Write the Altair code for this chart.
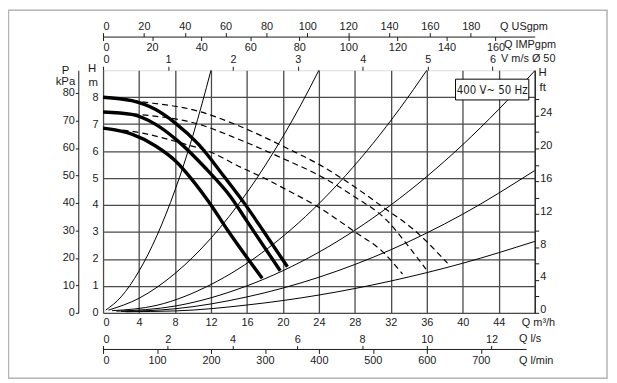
import altair as alt
import pandas as pd

# ---------------- data ----------------
# thin system curves (Q m3/h, H m)
sys_curves = {
    "C1": ([0.3, 2, 4, 6, 8, 10, 11, 12], [0.1, 0.59, 1.55, 2.87, 4.55, 6.59, 7.75, 9.0]),
    "C2": ([0.6, 4, 8, 12, 16, 20, 22, 24], [0.1, 0.54, 1.46, 2.77, 4.46, 6.54, 7.72, 9.0]),
    "C3": ([1.0, 6, 12, 18, 24, 30, 33, 36], [0.08, 0.28, 1.05, 2.31, 4.05, 6.28, 7.58, 9.0]),
    "C4": ([1.5, 8, 16, 24, 32, 40, 44, 48], [0.06, 0.25, 1.0, 2.25, 4.0, 6.24, 7.55, 8.98]),
    "C5": ([2.0, 8, 16, 24, 32, 40, 48], [0.05, 0.15, 0.59, 1.32, 2.34, 3.66, 5.28]),
    "C6": ([2.5, 8, 16, 24, 32, 40, 48], [0.04, 0.07, 0.29, 0.66, 1.18, 1.84, 2.65]),
}
# thick pump curves
pump_curves = {
    "P1": ([0, 3.2, 5.8, 8.0, 10.6, 13.5, 15.7, 17.9, 20.5], [8.0, 7.87, 7.55, 7.05, 6.26, 5.04, 4.07, 3.0, 1.71]),
    "P2": ([0, 3.2, 5.8, 8.3, 11.3, 14.2, 16.0, 19.7], [7.45, 7.36, 7.0, 6.38, 5.4, 4.3, 3.4, 1.56]),
    "P3": ([0, 3.2, 5.8, 8.0, 9.8, 12.0, 13.8, 17.7], [6.85, 6.63, 6.2, 5.65, 4.98, 4.0, 3.09, 1.28]),
}
# dashed curves
dash_curves = {
    "D1": ([0, 4, 10.6, 15, 20.5, 24.2, 28.2, 31.3, 34.5, 38.3], [8.0, 7.84, 7.48, 6.95, 6.1, 5.47, 4.62, 3.88, 3.1, 1.84]),
    "D2": ([0, 4, 10.6, 15, 19.7, 24, 28, 31.5, 34, 35.9], [7.45, 7.36, 7.0, 6.45, 5.77, 5.1, 4.3, 3.45, 2.45, 1.62]),
    "D3": ([0, 4, 9.1, 12, 15, 17.9, 20.5, 23.8, 27.8, 31.3, 33.3], [6.85, 6.69, 6.26, 5.96, 5.45, 5.0, 4.55, 3.95, 3.05, 2.2, 1.44]),
}

q_ticks = [0, 4, 8, 12, 16, 20, 24, 28, 32, 36, 40, 44, 48]
h_ticks = [0, 1, 2, 3, 4, 5, 6, 7, 8]
kpa_ticks = [0, 10, 20, 30, 40, 50, 60, 70, 80]
ft_ticks = [0, 2, 4, 6, 8, 10, 12, 14, 16, 18, 20, 22, 24, 26]
usgpm_ticks = [0, 20, 40, 60, 80, 100, 120, 140, 160, 180]
impgpm_ticks = [0, 20, 40, 60, 80, 100, 120, 140, 160]
v_ticks = [0, 1, 2, 3, 4, 5, 6]
ls_ticks = [0, 2, 4, 6, 8, 10, 12]
lmin_ticks = [0, 100, 200, 300, 400, 500, 600, 700]

Q_MAX, H_MAX = 48, 9
USGPM_PER_M3H = 4.403
IMPGPM_PER_M3H = 3.666
M3H_PER_MS = 7.22
KPA_PER_M = 9.81
FT_PER_M = 3.2808
LMIN_LINE_END = 47.1  # m3/h

# ---------------- helpers ----------------
def long_df(curves):
    rows = []
    for name, (qs, hs) in curves.items():
        for i, (q, h) in enumerate(zip(qs, hs)):
            rows.append({"curve": name, "i": i, "Q": q, "H": h})
    return pd.DataFrame(rows)

FONT = "Liberation Sans"
INK = "#1a1a1a"
W, H = 436, 245

xs = alt.Scale(domain=[0, Q_MAX], nice=False, zero=True)
ys = alt.Scale(domain=[0, H_MAX], nice=False, zero=True)
x_axis = alt.Axis(values=q_ticks, labelExpr="datum.value == 48 ? '' : datum.label",
                  grid=True, gridColor="#4a4a4a", gridWidth=1.3, tickSize=0, labelPadding=4,
                  domain=False, title=None, labelFont=FONT, labelFontSize=11, labelColor=INK)
y_axis = alt.Axis(values=h_ticks, grid=True, gridColor="#4a4a4a", gridWidth=1.3, tickSize=0,
                  labelPadding=5, domain=False, title=None, labelFont=FONT, labelFontSize=11,
                  labelColor=INK)
X = alt.X("Q:Q", scale=xs, axis=x_axis)
Y = alt.Y("H:Q", scale=ys, axis=y_axis)

thin = alt.Chart(long_df(sys_curves)).mark_line(color="black", strokeWidth=1, interpolate="monotone").encode(
    x=X, y=Y, detail="curve:N", order="i:Q")
dashed = alt.Chart(long_df(dash_curves)).mark_line(color="black", strokeWidth=1.2, strokeDash=[6, 4],
                                                   interpolate="monotone").encode(
    x=X, y=Y, detail="curve:N", order="i:Q")
thick = alt.Chart(long_df(pump_curves)).mark_line(color="black", strokeWidth=3.4, interpolate="monotone",
                                                  strokeCap="butt").encode(
    x=X, y=Y, detail="curve:N", order="i:Q")

# line of the l/s - l/min scale
lmin_line = alt.Chart(pd.DataFrame({"Q": [0], "Q2": [LMIN_LINE_END]})).mark_rule(
    color=INK, strokeWidth=1).encode(x=X, x2="Q2:Q", y=alt.value(282))

# legend box
box = alt.Chart(pd.DataFrame({"t": ["400 V~ 50 Hz"]})).mark_rect(
    fill="white", stroke="black", strokeWidth=1).encode(
    x=alt.value(356), x2=alt.value(430), y=alt.value(9), y2=alt.value(30))
box_text = alt.Chart(pd.DataFrame({"t": ["400 V~ 50 Hz"]})).mark_text(
    font="'DejaVu Sans Condensed', 'Liberation Sans'", fontSize=11.5, color=INK, align="center",
    baseline="middle").encode(
    x=alt.value(393), y=alt.value(20.5), text="t:N")

# outer frame
frame = alt.Chart(pd.DataFrame({"a": [0]})).mark_rect(
    fill=None, stroke="#b4b4b4", strokeWidth=1.5).encode(
    x=alt.value(-95.5), x2=alt.value(509), y=alt.value(-60.5), y2=alt.value(311))

# titles
titles = pd.DataFrame({
    "t": ["Q USgpm", "Q IMPgpm", "V m/s \u00d8 50", "Q m\u00b3/h", "Q l/s", "Q l/min"],
    "x": [401, 405, 402, 423, 420, 420],
    "y": [-44, -25, -11, 255, 271, 294],
})
title_left = alt.Chart(titles).mark_text(font=FONT, fontSize=11, color=INK, align="left",
                                         baseline="middle").encode(
    x=alt.X("x:Q", scale=None), y=alt.Y("y:Q", scale=None), text="t:N")
ctitles = pd.DataFrame({
    "t": ["H", "m", "P", "kPa", "H", "ft"],
    "x": [-11, -10, -38, -38, 444, 444],
    "y": [-1.5, 13, 0.5, 12, 2.5, 17.5],
})
title_center = alt.Chart(ctitles).mark_text(font=FONT, fontSize=11.5, color=INK, align="center",
                                            baseline="middle").encode(
    x=alt.X("x:Q", scale=None), y=alt.Y("y:Q", scale=None), text="t:N")

main = alt.layer(frame, thin, dashed, thick, lmin_line, box, box_text, title_left, title_center)

# ---------------- secondary axes ----------------
def ax(**kw):
    base = dict(title=None, grid=False, labelFont=FONT, labelFontSize=11, labelColor=INK,
                tickColor=INK, domainColor=INK, tickSize=4, labelPadding=1)
    base.update(kw)
    return alt.Axis(**base)

def x_axis_layer(top, axis):
    return alt.Chart(pd.DataFrame({"v": [0, top]})).mark_rule(opacity=0).encode(
        x=alt.X("v:Q", scale=alt.Scale(domain=[0, top], nice=False, zero=True), axis=axis))

def y_axis_layer(top, axis):
    return alt.Chart(pd.DataFrame({"v": [0, top]})).mark_rule(opacity=0).encode(
        y=alt.Y("v:Q", scale=alt.Scale(domain=[0, top], nice=False, zero=True), axis=axis))

us = x_axis_layer(Q_MAX * USGPM_PER_M3H, ax(orient="top", offset=34, values=usgpm_ticks, domain=True,
                                             labelPadding=1))
imp = x_axis_layer(Q_MAX * IMPGPM_PER_M3H, ax(orient="bottom", offset=-279, values=impgpm_ticks,
                                              domain=False, labelPadding=1))
vel = x_axis_layer(Q_MAX / M3H_PER_MS, ax(orient="top", offset=0, values=v_ticks, domain=False,
                                          labelPadding=2))
ls = x_axis_layer(Q_MAX / 3.6, ax(orient="top", offset=-282, values=ls_ticks, domain=False,
                                  labelPadding=1))
lmin = x_axis_layer(Q_MAX / 0.06, ax(orient="bottom", offset=37, values=lmin_ticks, domain=False,
                                     labelPadding=1))
kpa = y_axis_layer(H_MAX * KPA_PER_M, ax(orient="left", offset=25, values=kpa_ticks, domain=True,
                                         tickSize=3, labelPadding=1))
ft = y_axis_layer(H_MAX * FT_PER_M, ax(orient="right", offset=0, values=ft_ticks, domain=True,
                                       labelExpr="datum.value % 4 == 0 ? datum.label : ''",
                                       labelPadding=1, labelOffset=-3))

chart = alt.layer(main, us, imp, vel, ls, lmin, kpa, ft).resolve_scale(
    x="independent", y="independent").properties(
    width=W, height=H,
    padding={"left": 96, "top": 61, "right": 75, "bottom": 68},
    autosize=alt.AutoSizeParams(type="none"),
).configure_view(stroke=INK, strokeWidth=1.3).configure(background="white")

chart.save("out.html", embed_options={"renderer": "svg", "actions": False})
